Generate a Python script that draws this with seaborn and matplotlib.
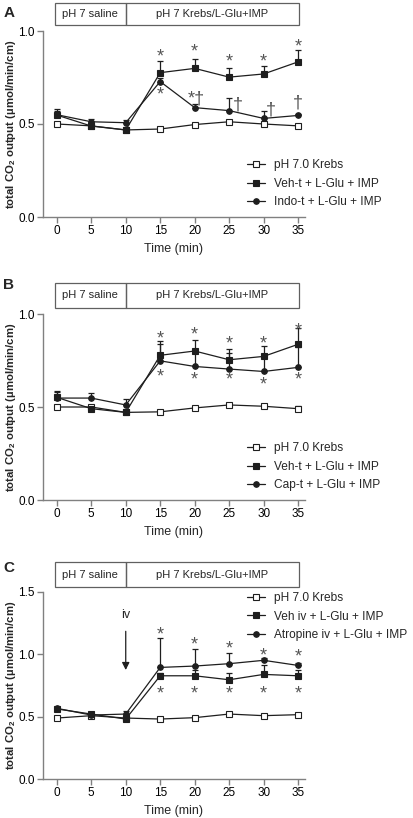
import numpy as np
import seaborn as sns
import matplotlib.pyplot as plt
from matplotlib.patches import Rectangle
from matplotlib.transforms import blended_transform_factory

sns.set_style('ticks')
plt.rcParams['font.family'] = ['Liberation Sans', 'DejaVu Sans']
plt.rcParams['mathtext.fontset'] = 'custom'
plt.rcParams['mathtext.rm'] = 'Liberation Sans'
plt.rcParams['mathtext.bf'] = 'Liberation Sans:bold'

times = [0, 5, 10, 15, 20, 25, 30, 35]

# panel A
krebs_a = [0.50, 0.49, 0.468, 0.473, 0.497, 0.512, 0.50, 0.49]
krebs_a_err = [0.01, 0.01, 0.01, 0.01, 0.01, 0.01, 0.01, 0.012]
veh_a = [0.548, 0.489, 0.468, 0.776, 0.799, 0.752, 0.769, 0.834]
veh_a_err = [0.035, 0.01, 0.01, 0.063, 0.049, 0.049, 0.045, 0.064]
indo_a = [0.55, 0.512, 0.507, 0.728, 0.588, 0.572, 0.530, 0.546]
indo_a_err = [0.02, 0.015, 0.016, 0.02, 0.021, 0.07, 0.04, 0.01]
labels_a = ['pH 7.0 Krebs', 'Veh-t + L-Glu + IMP', 'Indo-t + L-Glu + IMP']
marks_a_x = [15, 20, 25, 30, 35, 15, 20.2, 26.2, 31, 35]
marks_a_y = [0.885, 0.907, 0.858, 0.858, 0.934, 0.68, 0.656, 0.602, 0.575, 0.611]
marks_a_txt = ['*', '*', '*', '*', '*', '*', '*†', '†', '†', '†']

# panel B
krebs_b = [0.50, 0.50, 0.471, 0.474, 0.495, 0.511, 0.504, 0.491]
krebs_b_err = [0.01, 0.01, 0.01, 0.01, 0.01, 0.01, 0.01, 0.012]
veh_b = [0.552, 0.491, 0.471, 0.778, 0.801, 0.754, 0.772, 0.837]
veh_b_err = [0.032, 0.01, 0.01, 0.062, 0.06, 0.058, 0.055, 0.088]
cap_b = [0.548, 0.548, 0.511, 0.748, 0.718, 0.704, 0.691, 0.713]
cap_b_err = [0.03, 0.027, 0.033, 0.107, 0.08, 0.086, 0.08, 0.107]
labels_b = ['pH 7.0 Krebs', 'Veh-t + L-Glu + IMP', 'Cap-t + L-Glu + IMP']
marks_b_x = [15, 20, 25, 30, 35, 15, 20, 25, 30, 35]
marks_b_y = [0.889, 0.912, 0.862, 0.862, 0.93, 0.683, 0.665, 0.665, 0.642, 0.665]
marks_b_txt = ['*'] * 10

# panel C
krebs_c = [0.489, 0.508, 0.489, 0.481, 0.492, 0.521, 0.508, 0.516]
krebs_c_err = [0.01, 0.01, 0.01, 0.01, 0.01, 0.01, 0.01, 0.015]
veh_c = [0.562, 0.521, 0.481, 0.828, 0.828, 0.796, 0.839, 0.828]
veh_c_err = [0.01, 0.01, 0.01, 0.02, 0.043, 0.056, 0.072, 0.048]
atro_c = [0.567, 0.513, 0.521, 0.895, 0.906, 0.925, 0.952, 0.911]
atro_c_err = [0.01, 0.01, 0.027, 0.237, 0.134, 0.085, 0.02, 0.02]
labels_c = ['pH 7.0 Krebs', 'Veh iv + L-Glu + IMP', 'Atropine iv + L-Glu + IMP']
marks_c_x = [15, 20, 25, 30, 35, 15, 20, 25, 30, 35]
marks_c_y = [1.19, 1.105, 1.078, 1.019, 1.013, 0.718, 0.718, 0.718, 0.718, 0.718]
marks_c_txt = ['*'] * 10

line_col = '#1e1e1e'
axis_col = '#808080'


def draw_panel(ax, series, labels, mx, my, mtxt, ymax, yticks, legend_top, box_y):
    styles = [('s', 'white', 4.5), ('s', line_col, 4.5), ('o', line_col, 4)]
    for (vals, errs), lab, (mk, fc, ms) in zip(series, labels, styles):
        ax.errorbar(times, vals, yerr=[np.zeros(len(errs)), errs], fmt='none',
                    ecolor=line_col, elinewidth=0.9, capsize=2.5, capthick=0.9, zorder=2)
        sns.lineplot(x=times, y=vals, ax=ax, marker=mk, markersize=ms,
                     markerfacecolor=fc, markeredgecolor=line_col, markeredgewidth=0.8,
                     color=line_col, lw=0.9, label=lab, zorder=3)
    # significance marks; the asterisk glyph sits high, so nudge it down
    for x, y, t in zip(mx, my, mtxt):
        dy = -3.0 if t.startswith('*') else 0
        ax.annotate(t, (x, y), xytext=(0, dy), textcoords='offset points',
                    ha='center', va='center', fontsize=13, color='#555555')

    ax.set_xlim(-2, 36)
    ax.set_ylim(0, ymax)
    ax.set_xticks(times)
    ax.set_yticks(yticks)
    ax.set_yticklabels([f'{v:.1f}' for v in yticks])
    ax.tick_params(axis='both', colors=axis_col, labelcolor='black', labelsize=8.5,
                   length=4, width=1, direction='out', pad=2)
    for s in ['left', 'bottom']:
        ax.spines[s].set_color(axis_col)
        ax.spines[s].set_linewidth(1)
    sns.despine(ax=ax)
    ax.set_xlabel('Time (min)', fontsize=9, labelpad=4)
    ax.set_ylabel(r'total CO$_\mathbf{2}$ output (µmol/min/cm)', fontsize=8.2,
                  fontweight='bold')
    ax.yaxis.set_label_coords(-0.097, 0.5)

    ax.legend(loc='upper left', bbox_to_anchor=(0.78, legend_top), frameon=False,
              fontsize=8.6, borderpad=0, handlelength=1.45, handletextpad=0.8,
              labelspacing=0.55, borderaxespad=0)

    # header box with the treatment periods
    tr = blended_transform_factory(ax.transData, ax.transAxes)
    y0, y1 = box_y
    for xa, xb, txt in [(-0.3, 10, 'pH 7 saline'), (10, 35.15, 'pH 7 Krebs/L-Glu+IMP')]:
        ax.add_patch(Rectangle((xa, y0), xb - xa, y1 - y0, transform=tr, fill=False,
                               edgecolor='#606060', lw=0.9, clip_on=False))
        ax.text((xa + xb) / 2, (y0 + y1) / 2, txt, transform=tr, ha='center',
                va='center', fontsize=8)


fig = plt.figure(figsize=(4.14, 8.18), dpi=100)
ax_a = fig.add_axes([43 / 414, 1 - 217 / 818, 262 / 414, 186 / 818])
ax_b = fig.add_axes([43 / 414, 1 - 500 / 818, 262 / 414, 186 / 818])
ax_c = fig.add_axes([43 / 414, 1 - 779 / 818, 262 / 414, 187 / 818])

draw_panel(ax_a, [(krebs_a, krebs_a_err), (veh_a, veh_a_err), (indo_a, indo_a_err)],
           labels_a, marks_a_x, marks_a_y, marks_a_txt, 1.0, [0.0, 0.5, 1.0], 0.31,
           (1.032, 1.15))
draw_panel(ax_b, [(krebs_b, krebs_b_err), (veh_b, veh_b_err), (cap_b, cap_b_err)],
           labels_b, marks_b_x, marks_b_y, marks_b_txt, 1.0, [0.0, 0.5, 1.0], 0.31,
           (1.032, 1.167))
draw_panel(ax_c, [(krebs_c, krebs_c_err), (veh_c, veh_c_err), (atro_c, atro_c_err)],
           labels_c, marks_c_x, marks_c_y, marks_c_txt, 1.5, [0.0, 0.5, 1.0, 1.5], 1.0,
           (1.027, 1.16))

# injection arrow in panel C
ax_c.annotate('', xy=(10, 0.852), xytext=(10, 1.207),
              arrowprops=dict(arrowstyle='-|>', color=line_col, lw=0.9, mutation_scale=11))
ax_c.text(10, 1.315, 'iv', ha='center', va='center', fontsize=9)

for letter, ypix in [('A', 13), ('B', 285), ('C', 568)]:
    fig.text(9 / 414, 1 - ypix / 818, letter, ha='center', va='center',
             fontsize=11, fontweight='bold')

fig.savefig('out.png', dpi=100)
